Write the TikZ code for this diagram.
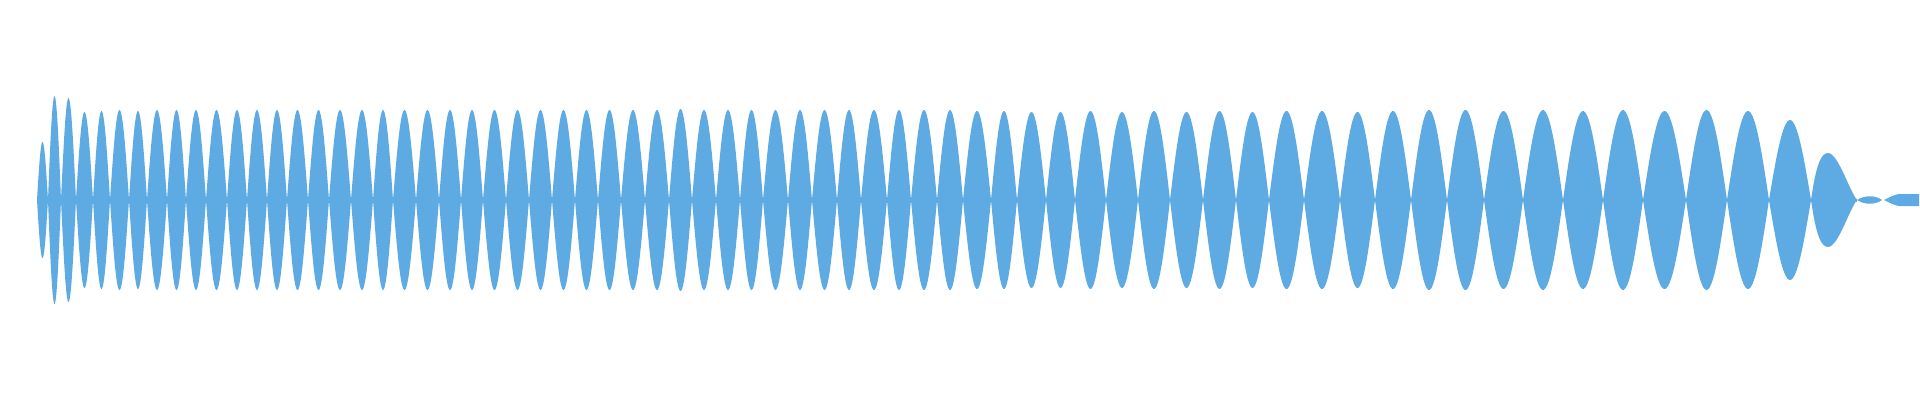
\documentclass[tikz,border=0pt]{standalone}
\usepackage{tikz}
\definecolor{wave}{RGB}{93,171,226}
\tikzset{lobe/.style={fill=wave,draw=none}}
\begin{document}
\begin{tikzpicture}[x=1pt,y=-1pt]
    \useasboundingbox (0,0) rectangle (1920,400);
    % centre band
    \fill[wave] (37,198.5) rectangle (1857,201.5);
    % regular lobes: start/end/height
    \foreach \a/\b/\h in {37/48/58,48/61/104,61/76/102,76/93/88,93/110/89,110/129/90,
        129/147/89,147/167/90,167/186/90,186/206/90,206/227/90,227/247/90,247/267/90,
        267/287/90,287/308/90,308/329/90,329/351/90,351/373/90,373/393/90,393/416/90,
        416/439/90,439/461/90,461/483/90,483/506/90,506/529/90,529/552/90,552/575/90,
        575/598/90,598/621/90,621/645/90,645/669/90,669/692/91,692/716/90,716/740/90,
        740/763/90,763/788/90,788/812/90,812/837/90,837/861/90,861/887/90,887/911/90,
        911/937/90,937/963/90,963/991/89,991/1017/89,1017/1046/88,1046/1075/88,
        1075/1106/89,1106/1138/88,1138/1170/89,1170/1203/88,1203/1236/89,1236/1269/88,
        1269/1304/89,1304/1340/89,1340/1375/88,1375/1411/89,1411/1447/90,1447/1484/90,
        1484/1523/89,1523/1563/90,1563/1603/89,1603/1643/90,1643/1686/89,1686/1727/90,
        1727/1769/89,1769/1811/80}
        \fill[lobe] plot[domain=0:180,samples=24] ({\a+(\b-\a)*\x/180},{200-\h*sin(\x)})
            -- plot[domain=180:0,samples=24] ({\a+(\b-\a)*\x/180},{200+\h*sin(\x)}) -- cycle;
    % last lobe, leaning left
    \fill[lobe] (1811,200) .. controls (1816,165) and (1821,153) .. (1828,153)
        .. controls (1838,153) and (1849,190) .. (1857,200)
        .. controls (1849,210) and (1838,247) .. (1828,247)
        .. controls (1821,247) and (1816,235) .. (1811,200) -- cycle;
    % tail
    \fill[lobe] (1857,200) .. controls (1865,195) and (1875,195) .. (1882,200)
        .. controls (1875,205) and (1865,205) .. (1857,200) -- cycle;
    \fill[lobe] (1884,200) .. controls (1892,196) and (1896,194) .. (1900,194)
        -- (1919,194) -- (1919,206) -- (1900,206)
        .. controls (1896,206) and (1892,204) .. (1884,200) -- cycle;
\end{tikzpicture}
\end{document}
